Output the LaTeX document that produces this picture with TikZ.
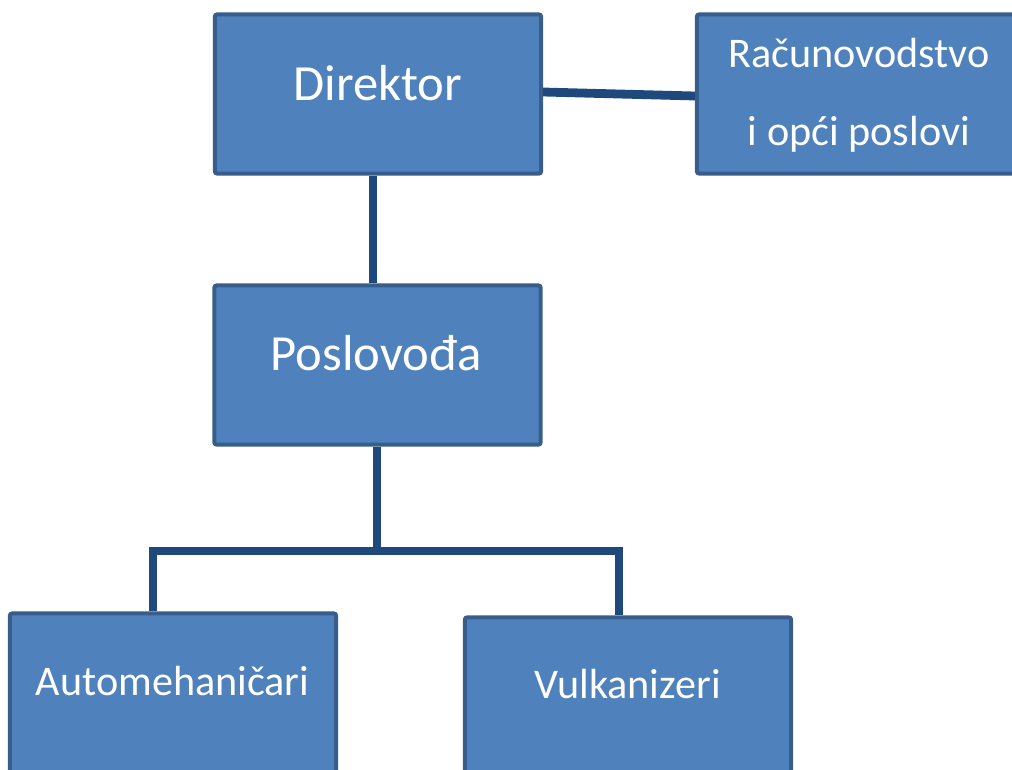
\documentclass[tikz,border=0pt]{standalone}
\usepackage{fontspec}
\setmainfont{Carlito}
\usetikzlibrary{positioning,calc}
\definecolor{boxfill}{HTML}{4F81BD}
\definecolor{boxline}{HTML}{385D8A}
\definecolor{linkcol}{HTML}{1F497D}
\begin{document}
\begin{tikzpicture}[x=0.025cm,y=-0.025cm,
  unit/.style={draw=boxline,fill=boxfill,line width=0.1cm,rounded corners=0.05cm,minimum width=8.15cm,minimum height=3.975cm,inner sep=0pt},
  bigtxt/.style={text=white,font=\fontsize{36}{43}\selectfont,anchor=base,inner sep=0pt},
  smalltxt/.style={text=white,font=\fontsize{30}{55}\selectfont,anchor=base,inner sep=0pt},
  link/.style={draw=linkcol,line width=0.22cm}]
\useasboundingbox (0,0) rectangle (1012,769);
\begin{scope}
\clip (0,0) rectangle (1012,769);
\node[unit] at (378,94) (dir) {};
\node[unit] at (860,94) (rac) {};
\node[unit] at (377.5,365) (posl) {};
\node[unit] at (173,693) (amech) {};
\node[unit] at (628,697) (vulk) {};
\end{scope}

\node[bigtxt] at (378,100) (dirtxt) {Direktor};
\node[smalltxt] at (859,67) (rac1) {Računovodstvo};
\node[smalltxt] at (859,145) (rac2) {i opći poslovi};
\node[bigtxt] at (376,370) (posltxt) {Poslovođa};
\node[smalltxt] at (172.5,695) (amechtxt) {Automehaničari};
\node[smalltxt] at (627.5,698) (vulktxt) {Vulkanizeri};

\coordinate (top) at (373,0);
\coordinate (fork) at (377,551);
\coordinate (lft) at (153,551);
\coordinate (rgt) at (619,551);

\draw[link] ([yshift=0.05cm]dir.east) -- ([yshift=-0.05cm]rac.west);
\draw[link] (top |- dir.south) -- (top |- posl.north);
\draw[link] (fork |- posl.south) -- (fork);
\draw[link,line join=miter] (lft |- amech.north) -- (lft) -- (rgt) -- (rgt |- vulk.north);
\end{tikzpicture}
\end{document}
